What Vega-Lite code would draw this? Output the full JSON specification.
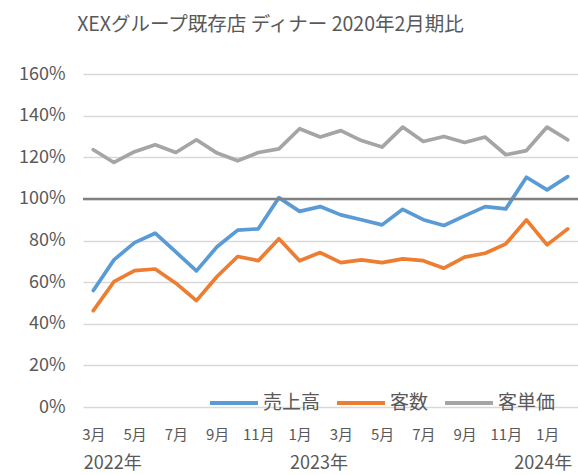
{
  "$schema": "https://vega.github.io/schema/vega-lite/v6.json",
  "width": 495,
  "height": 333,
  "autosize": {"type": "none"},
  "padding": {"left": 83, "top": 74, "right": 0, "bottom": 68},
  "background": "white",
  "config": {"view": {"stroke": null}, "font": "Noto Sans CJK JP"},
  "title": {
    "text": "XEXグループ既存店 ディナー 2020年2月期比",
    "font": "Noto Sans CJK JP",
    "fontSize": 19.5,
    "fontWeight": "normal",
    "color": "#595959",
    "anchor": "middle",
    "dx": -60,
    "offset": 30
  },
  "data": {
    "values": [
      {"m": "2022-03", "売上高": 56, "客数": 46.3, "客単価": 123.6},
      {"m": "2022-04", "売上高": 70.7, "客数": 60.2, "客単価": 117.5},
      {"m": "2022-05", "売上高": 79, "客数": 65.5, "客単価": 122.7},
      {"m": "2022-06", "売上高": 83.5, "客数": 66.3, "客単価": 126},
      {"m": "2022-07", "売上高": 74.5, "客数": 59.5, "客単価": 122.3},
      {"m": "2022-08", "売上高": 65.4, "客数": 51.1, "客単価": 128.4},
      {"m": "2022-09", "売上高": 77, "客数": 62.7, "客単価": 122},
      {"m": "2022-10", "売上高": 85, "客数": 72.3, "客単価": 118.3},
      {"m": "2022-11", "売上高": 85.6, "客数": 70.3, "客単価": 122.3},
      {"m": "2022-12", "売上高": 100.6, "客数": 80.8, "客単価": 124},
      {"m": "2023-01", "売上高": 94, "客数": 70.3, "客単価": 133.7},
      {"m": "2023-02", "売上高": 96.3, "客数": 74.2, "客単価": 129.7},
      {"m": "2023-03", "売上高": 92.3, "客数": 69.4, "客単価": 132.8},
      {"m": "2023-04", "売上高": 90, "客数": 70.7, "客単価": 128},
      {"m": "2023-05", "売上高": 87.5, "客数": 69.4, "客単価": 124.9},
      {"m": "2023-06", "売上高": 95, "客数": 71.2, "客単価": 134.5},
      {"m": "2023-07", "売上高": 90, "客数": 70.3, "客単価": 127.6},
      {"m": "2023-08", "売上高": 87.2, "客数": 66.7, "客単価": 130},
      {"m": "2023-09", "売上高": 91.8, "客数": 72, "客単価": 127.1},
      {"m": "2023-10", "売上高": 96.3, "客数": 73.9, "客単価": 129.7},
      {"m": "2023-11", "売上高": 95.2, "客数": 78.4, "客単価": 121.2},
      {"m": "2023-12", "売上高": 110.4, "客数": 89.9, "客単価": 123.2},
      {"m": "2024-01", "売上高": 104.3, "客数": 77.9, "客単価": 134.5},
      {"m": "2024-02", "売上高": 110.7, "客数": 85.6, "客単価": 128.4}
    ]
  },
  "layer": [
    {
      "transform": [{"fold": ["売上高", "客数", "客単価"], "as": ["series", "value"]}],
      "mark": {"type": "line", "strokeWidth": 3.7, "strokeJoin": "round", "strokeCap": "round"},
      "encoding": {
        "x": {
          "field": "m",
          "type": "ordinal",
          "scale": {"type": "point", "padding": 0.5},
          "axis": {
            "title": null,
            "values": ["2022-03", "2022-05", "2022-07", "2022-09", "2022-11", "2023-01", "2023-03", "2023-05", "2023-07", "2023-09", "2023-11", "2024-01"],
            "labelExpr": "toNumber(slice(datum.value, 5)) + '月'",
            "labelAngle": 0,
            "domain": false,
            "ticks": false,
            "grid": false,
            "labelPadding": 20,
            "labelFontSize": 15,
            "labelColor": "#595959",
            "labelFont": "Noto Sans CJK JP"
          }
        },
        "y": {
          "field": "value",
          "type": "quantitative",
          "scale": {"domain": [0, 160], "nice": false},
          "axis": {
            "title": null,
            "values": [0, 20, 40, 60, 80, 100, 120, 140, 160],
            "labelExpr": "datum.value + '%'",
            "domain": false,
            "ticks": false,
            "grid": true,
            "gridColor": "#d9d9d9",
            "gridWidth": 1.5,
            "labelPadding": 18,
            "labelFontSize": 18,
            "labelColor": "#595959",
            "labelFont": "Noto Sans CJK JP"
          }
        },
        "color": {
          "field": "series",
          "type": "nominal",
          "scale": {"domain": ["売上高", "客数", "客単価"], "range": ["#5B9BD5", "#ED7D31", "#A5A5A5"]},
          "legend": {
            "orient": "none",
            "legendX": 125,
            "legendY": 303,
            "direction": "horizontal",
            "title": null,
            "symbolType": "stroke",
            "symbolSize": 2300,
            "symbolStrokeWidth": 4,
            "labelFontSize": 19,
            "labelColor": "#595959",
            "labelFont": "Noto Sans CJK JP",
            "labelOffset": 3,
            "columnPadding": 8
          }
        }
      }
    },
    {
      "data": {"values": [{}]},
      "mark": {"type": "rule", "color": "#808080", "strokeWidth": 2.5},
      "encoding": {"y": {"datum": 100, "type": "quantitative"}}
    },
    {
      "mark": {"type": "point", "opacity": 0},
      "encoding": {
        "x": {
          "field": "m",
          "type": "ordinal",
          "axis": {
            "orient": "bottom",
            "title": null,
            "values": ["2022-03", "2023-01", "2024-02"],
            "labelExpr": "slice(datum.value, 0, 4) + '年'",
            "labelAngle": 0,
            "labelAlign": {"condition": {"test": "datum.value == '2024-02'", "value": "right"}, "value": "left"},
            "labelOffset": {"condition": {"test": "datum.value == '2024-02'", "value": 4}, "value": -10},
            "domain": false,
            "ticks": false,
            "grid": false,
            "labelPadding": 47,
            "labelFontSize": 18,
            "labelColor": "#595959",
            "labelFont": "Noto Sans CJK JP"
          }
        }
      }
    }
  ],
  "resolve": {"axis": {"x": "independent"}}
}
